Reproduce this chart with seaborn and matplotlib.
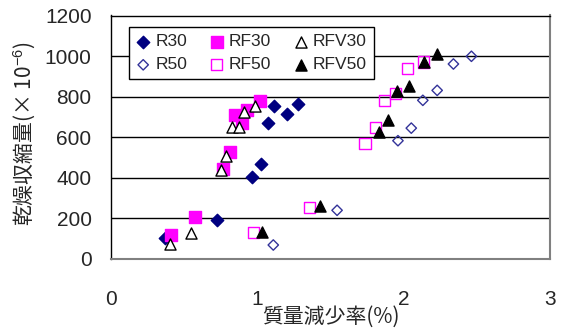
import matplotlib
matplotlib.use("Agg")
import matplotlib.pyplot as plt
import seaborn as sns
import pandas as pd

# Mass loss (%) vs drying shrinkage (x10^-6) for each mix
r30_x = [0.368, 0.725, 0.966, 1.027, 1.075, 1.116, 1.204, 1.280]
r30_y = [102, 191, 403, 466, 672, 756, 716, 765]
r50_x = [1.109, 1.545, 1.961, 2.052, 2.131, 2.229, 2.340, 2.463]
r50_y = [69, 240, 583, 645, 782, 831, 961, 999]
rf30_x = [0.411, 0.577, 0.763, 0.816, 0.848, 0.895, 0.927, 1.020]
rf30_y = [118, 207, 443, 528, 711, 670, 736, 780]
rf50_x = [0.973, 1.354, 1.736, 1.806, 1.866, 1.947, 2.029, 2.138]
rf50_y = [132, 255, 571, 650, 779, 815, 937, 971]
rfv30_x = [0.400, 0.550, 0.750, 0.789, 0.827, 0.875, 0.911, 0.986]
rfv30_y = [72, 130, 439, 507, 650, 650, 724, 752]
rfv50_x = [1.030, 1.425, 1.829, 1.893, 1.952, 2.036, 2.138, 2.229]
rfv50_y = [135, 263, 624, 685, 830, 851, 969, 1011]

x_ticks = [0, 1, 2, 3]
y_ticks = [0, 200, 400, 600, 800, 1000, 1200]

series = [
    ("R30", r30_x, r30_y, "D", "#000080", "#000080", 40),
    ("R50", r50_x, r50_y, "D", "none", "#333399", 28),
    ("RF30", rf30_x, rf30_y, "s", "#FF00FF", "#FF00FF", 64),
    ("RF50", rf50_x, rf50_y, "s", "none", "#FF00FF", 64),
    ("RFV30", rfv30_x, rfv30_y, "^", "white", "black", 64),
    ("RFV50", rfv50_x, rfv50_y, "^", "black", "black", 64),
]

sns.set_theme(style="white")
plt.rcParams["font.family"] = ["Liberation Sans", "Noto Sans CJK JP", "DejaVu Sans"]
plt.rcParams["mathtext.fontset"] = "custom"
plt.rcParams["mathtext.rm"] = "Liberation Sans"
plt.rcParams["mathtext.it"] = "Liberation Sans"

fig = plt.figure(figsize=(5.63, 3.29), dpi=100)
ax = fig.add_axes([111 / 563, 70 / 329, 439 / 563, 243.5 / 329])

for name, xs, ys, mk, fc, ec, s in series:
    df = pd.DataFrame({"x": xs, "y": ys})
    sns.scatterplot(data=df, x="x", y="y", ax=ax, marker=mk, s=s,
                    facecolor=fc, edgecolor=ec, linewidth=1.0,
                    label=name, zorder=3)

ax.set_xlim(0, 3)
ax.set_ylim(0, 1200)
ax.set_xticks(x_ticks)
ax.set_yticks(y_ticks)
ax.set_xticklabels([str(v) for v in x_ticks], fontsize=15)
ax.set_yticklabels([str(v) for v in y_ticks], fontsize=15)
ax.tick_params(axis="x", direction="in", length=6, width=1, color="#808080", pad=22)
ax.tick_params(axis="y", length=0, pad=14)

for v in y_ticks[1:-1]:
    ax.axhline(v, color="black", lw=1.0, zorder=1)

for side in ["left", "top"]:
    ax.spines[side].set_color("black")
    ax.spines[side].set_linewidth(1.0)
for side in ["right", "bottom"]:
    ax.spines[side].set_color("#808080")
    ax.spines[side].set_linewidth(1.5)

cjk = ["Noto Sans CJK JP", "DejaVu Sans"]
ax.set_xlabel("質量減少率(%)", fontsize=15, family=cjk, va="center")
ax.set_ylabel("乾燥収縮量(× 10$^{-6}$)", fontsize=15, family=cjk)
ax.xaxis.set_label_coords(0.5, -0.238)
ax.yaxis.set_label_coords(-0.168, 0.513)

leg = ax.legend(ncol=3, loc="upper left", bbox_to_anchor=(0.0417, 0.9515),
                borderaxespad=0, fontsize=12.5, frameon=True, fancybox=False,
                edgecolor="black", handletextpad=0.3, columnspacing=1.3,
                borderpad=0.4, labelspacing=0.45, handlelength=0.8,
                framealpha=1)
leg.get_frame().set_linewidth(1.0)

fig.savefig("out.png", dpi=100, facecolor="white")
